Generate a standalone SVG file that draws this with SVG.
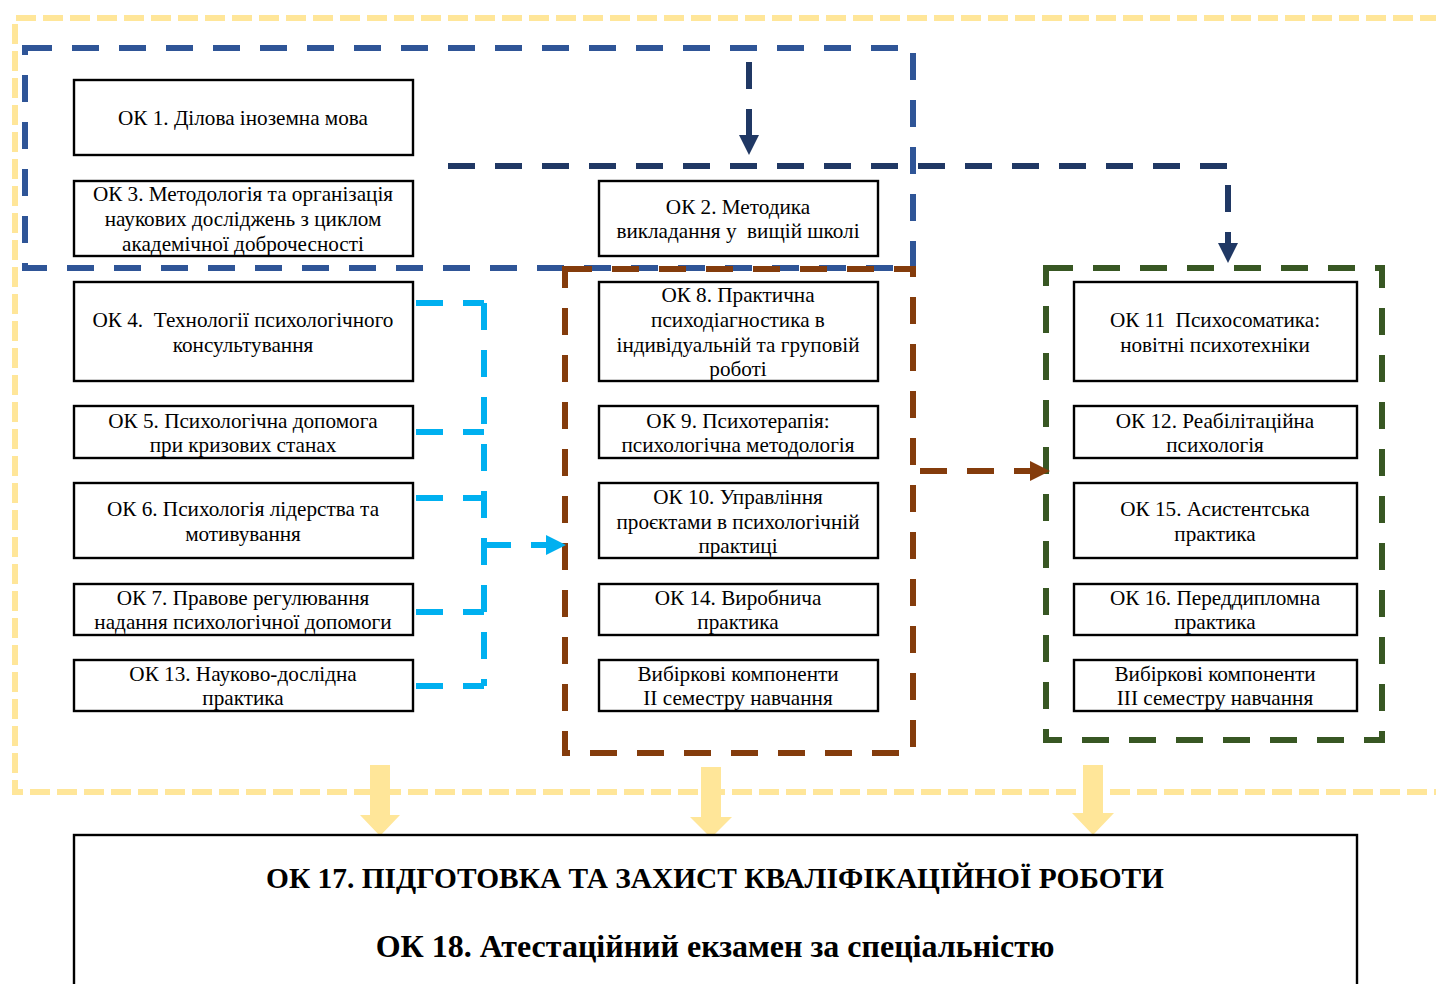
<svg xmlns="http://www.w3.org/2000/svg" width="1436" height="984" viewBox="0 0 1436 984">
<defs>
<style>
.box{fill:#fff;stroke:#000;stroke-width:2.4}
.t{font-family:"Liberation Serif","Times New Roman",serif;font-size:21.2px;fill:#000;text-anchor:middle;white-space:pre}
.tb{font-family:"Liberation Serif","Times New Roman",serif;font-weight:bold;fill:#000;text-anchor:middle}
.dash{fill:none;stroke-width:6;stroke-dasharray:27 20}
.yel{fill:none;stroke:#FFE699;stroke-width:6;stroke-dasharray:20 7}
.blue{stroke:#2F5597}
.navy{stroke:#203864}
.brown{stroke:#843C0C}
.green{stroke:#385723}
.cyan{stroke:#00B0F0}
</style>
<marker id="mNavy" markerUnits="userSpaceOnUse" markerWidth="20" markerHeight="20" refX="2" refY="10" orient="auto"><path d="M0,0 L20,10 L0,20 Z" fill="#203864"/></marker>
<marker id="mBrown" markerUnits="userSpaceOnUse" markerWidth="20" markerHeight="20" refX="2" refY="10" orient="auto"><path d="M0,0 L20,10 L0,20 Z" fill="#843C0C"/></marker>
<marker id="mCyan" markerUnits="userSpaceOnUse" markerWidth="20" markerHeight="20" refX="2" refY="10" orient="auto"><path d="M0,0 L20,10 L0,20 Z" fill="#00B0F0"/></marker>
</defs>
<rect width="1436" height="984" fill="#fff"/>

<g id="frames">
<path class="yel" d="M1440,18 H15 V792 H1440"/>
<path class="dash blue" d="M25,48 H913 V268 H25 Z"/>
<path class="dash brown" d="M565,269 H913 V753 H565 Z"/>
<path class="dash green" d="M1046,268 H1382 V740 H1046 Z"/>
</g>

<g id="connectors">
<path class="dash navy" d="M749,62 V137" marker-end="url(#mNavy)"/>
<path class="dash navy" d="M448,166 H1228 V245" marker-end="url(#mNavy)"/>
<path class="dash brown" d="M920,471 H1032" marker-end="url(#mBrown)"/>
<path class="dash cyan" d="M416,303 H484"/>
<path class="dash cyan" d="M416,432 H484"/>
<path class="dash cyan" d="M416,498 H484"/>
<path class="dash cyan" d="M416,612 H484"/>
<path class="dash cyan" d="M416,686 H484"/>
<path class="dash cyan" d="M484,303 V686"/>
<path class="dash cyan" d="M484,545 H548" marker-end="url(#mCyan)"/>
<g fill="#FFE699">
<path d="M370,765 H390 V815 H400 L380,836 L360,815 H370 Z"/>
<path d="M701,767 H721 V817 H732 L711,838 L690,817 H701 Z"/>
<path d="M1083,765 H1103 V813 H1114 L1093,835 L1072,813 H1083 Z"/>
</g>
</g>

<g id="ok1"><rect class="box" x="74" y="80" width="339" height="75"/><text class="t" x="243" y="125">ОК 1. Ділова іноземна мова</text></g>
<g id="ok3"><rect class="box" x="74" y="181" width="339" height="75"/><text class="t" x="243" y="201">ОК 3. Методологія та організація</text><text class="t" x="243" y="226">наукових досліджень з циклом</text><text class="t" x="243" y="251">академічної доброчесності</text></g>
<g id="ok4"><rect class="box" x="74" y="282" width="339" height="99"/><text class="t" x="243" y="327">ОК 4.  Технології психологічного</text><text class="t" x="243" y="352">консультування</text></g>
<g id="ok5"><rect class="box" x="74" y="406" width="339" height="52"/><text class="t" x="243" y="428">ОК 5. Психологічна допомога</text><text class="t" x="243" y="452">при кризових станах</text></g>
<g id="ok6"><rect class="box" x="74" y="483" width="339" height="75"/><text class="t" x="243" y="516">ОК 6. Психологія лідерства та</text><text class="t" x="243" y="541">мотивування</text></g>
<g id="ok7"><rect class="box" x="74" y="584" width="339" height="51"/><text class="t" x="243" y="605">ОК 7. Правове регулювання</text><text class="t" x="243" y="629">надання психологічної допомоги</text></g>
<g id="ok13"><rect class="box" x="74" y="660" width="339" height="51"/><text class="t" x="243" y="681">ОК 13. Науково-дослідна</text><text class="t" x="243" y="705">практика</text></g>

<g id="ok2"><rect class="box" x="599" y="181" width="279" height="75"/><text class="t" x="738" y="214">ОК 2. Методика</text><text class="t" x="738" y="238">викладання у  вищій школі</text></g>
<g id="ok8"><rect class="box" x="599" y="282" width="279" height="99"/><text class="t" x="738" y="302">ОК 8. Практична</text><text class="t" x="738" y="327">психодіагностика в</text><text class="t" x="738" y="352">індивідуальній та груповій</text><text class="t" x="738" y="376">роботі</text></g>
<g id="ok9"><rect class="box" x="599" y="406" width="279" height="52"/><text class="t" x="738" y="428">ОК 9. Психотерапія:</text><text class="t" x="738" y="452">психологічна методологія</text></g>
<g id="ok10"><rect class="box" x="599" y="483" width="279" height="75"/><text class="t" x="738" y="504">ОК 10. Управління</text><text class="t" x="738" y="529">проєктами в психологічній</text><text class="t" x="738" y="553">практиці</text></g>
<g id="ok14"><rect class="box" x="599" y="584" width="279" height="51"/><text class="t" x="738" y="605">ОК 14. Виробнича</text><text class="t" x="738" y="629">практика</text></g>
<g id="elective2"><rect class="box" x="599" y="660" width="279" height="51"/><text class="t" x="738" y="681">Вибіркові компоненти</text><text class="t" x="738" y="705">ІІ семестру навчання</text></g>

<g id="ok11"><rect class="box" x="1074" y="282" width="283" height="99"/><text class="t" x="1215" y="327">ОК 11  Психосоматика:</text><text class="t" x="1215" y="352">новітні психотехніки</text></g>
<g id="ok12"><rect class="box" x="1074" y="406" width="283" height="52"/><text class="t" x="1215" y="428">ОК 12. Реабілітаційна</text><text class="t" x="1215" y="452">психологія</text></g>
<g id="ok15"><rect class="box" x="1074" y="483" width="283" height="75"/><text class="t" x="1215" y="516">ОК 15. Асистентська</text><text class="t" x="1215" y="541">практика</text></g>
<g id="ok16"><rect class="box" x="1074" y="584" width="283" height="51"/><text class="t" x="1215" y="605">ОК 16. Переддипломна</text><text class="t" x="1215" y="629">практика</text></g>
<g id="elective3"><rect class="box" x="1074" y="660" width="283" height="51"/><text class="t" x="1215" y="681">Вибіркові компоненти</text><text class="t" x="1215" y="705">ІІІ семестру навчання</text></g>

<g id="ok17-18"><rect class="box" x="74" y="835" width="1283" height="160" stroke-width="2.6"/><text class="tb" x="715" y="888" font-size="29.4px">ОК 17. ПІДГОТОВКА ТА ЗАХИСТ КВАЛІФІКАЦІЙНОЇ РОБОТИ</text><text class="tb" x="715" y="957" font-size="32px">ОК 18. Атестаційний екзамен за спеціальністю</text></g>
</svg>
